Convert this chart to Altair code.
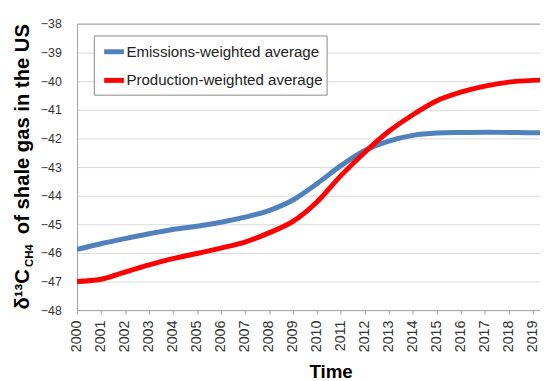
import altair as alt
import pandas as pd

FONT = "Liberation Sans"

years = list(range(2000, 2021))
emissions = [-45.88, -45.68, -45.50, -45.33, -45.18, -45.07, -44.93, -44.75, -44.52, -44.15,
             -43.58, -42.95, -42.42, -42.09, -41.89, -41.81, -41.79, -41.78, -41.79, -41.80, -41.80]
production = [-47.00, -46.92, -46.67, -46.42, -46.20, -46.02, -45.83, -45.62, -45.30, -44.90,
              -44.22, -43.30, -42.48, -41.75, -41.17, -40.68, -40.38, -40.17, -40.03, -39.97, -39.95]
series_names = ["Emissions-weighted average", "Production-weighted average"]
series_colors = ["#4F81BD", "#FF0000"]
x_ticks = list(range(2000, 2020))
y_ticks = list(range(-48, -37))

rows = []
for name, vals in zip(series_names, [emissions, production]):
    for yr, v in zip(years, vals):
        rows.append({"year": yr, "value": v, "series": name})
df = pd.DataFrame(rows)

W = 469.3
H = 290
one = alt.Data(values=[{"k": 1}])

lines = alt.Chart(df).mark_line(strokeWidth=5, interpolate="monotone", clip=True).encode(
    x=alt.X("year:Q",
            scale=alt.Scale(domain=[2000, 2019.3], nice=False, zero=False),
            axis=alt.Axis(values=x_ticks, format="d", labelAngle=-90, labelFontSize=14.5,
                          labelPadding=6, tickSize=4, grid=False, title="Time",
                          titleFontSize=19, titleFontWeight="bold", titleX=257, titleY=68,
                          titleBaseline="alphabetic", titleColor="#000")),
    y=alt.Y("value:Q",
            scale=alt.Scale(domain=[-48, -38], nice=False, zero=False),
            axis=alt.Axis(values=y_ticks, ticks=False, labelPadding=16, labelFontSize=12.5,
                          grid=True, gridColor="#d9d9d9", gridWidth=1, title=None)),
    color=alt.Color("series:N",
                    scale=alt.Scale(domain=series_names, range=series_colors),
                    legend=alt.Legend(title=None, orient="none", legendX=17, legendY=11.6)),
)

top_rule = alt.Chart(one).mark_rule(color="#a0a0a0", strokeWidth=1).encode(
    x=alt.value(0), x2=alt.value(W), y=alt.value(0))

ta = alt.Chart(one).mark_text(text="δ¹³C", angle=270, align="left", baseline="alphabetic",
                              fontSize=20.5, fontWeight="bold", font=FONT, color="#000").encode(
    x=alt.value(-48.3), y=alt.value(289.3))
tb = alt.Chart(one).mark_text(text="CH4", angle=270, align="left", baseline="alphabetic",
                              fontSize=11.5, fontWeight="bold", font=FONT, color="#000").encode(
    x=alt.value(-45), y=alt.value(246.3))
tc = alt.Chart(one).mark_text(text="of shale gas in the US", angle=270, align="left",
                              baseline="alphabetic", fontSize=20.5, fontWeight="bold",
                              font=FONT, color="#000").encode(
    x=alt.value(-48.3), y=alt.value(213))

chart = alt.layer(top_rule, lines, ta, tb, tc).properties(
    width=W, height=H,
    autosize=alt.AutoSizeParams(type="none"),
    padding={"left": 70, "top": 13.7, "right": 0, "bottom": 69.3},
    background="white",
).configure_view(stroke=None).configure_axis(
    labelFont=FONT, titleFont=FONT, labelColor="#333",
    domainColor="#a0a0a0", tickColor="#a0a0a0",
).configure_legend(
    fillColor="white", strokeColor="#888", padding=4, symbolType="stroke",
    symbolSize=400, symbolStrokeWidth=5, labelFontSize=15.3, labelOffset=0,
    symbolOffset=4, rowPadding=6, labelColor="#222", labelFont=FONT, labelLimit=0,
)

chart.save("out.html", embed_options={"renderer": "svg", "actions": False})
